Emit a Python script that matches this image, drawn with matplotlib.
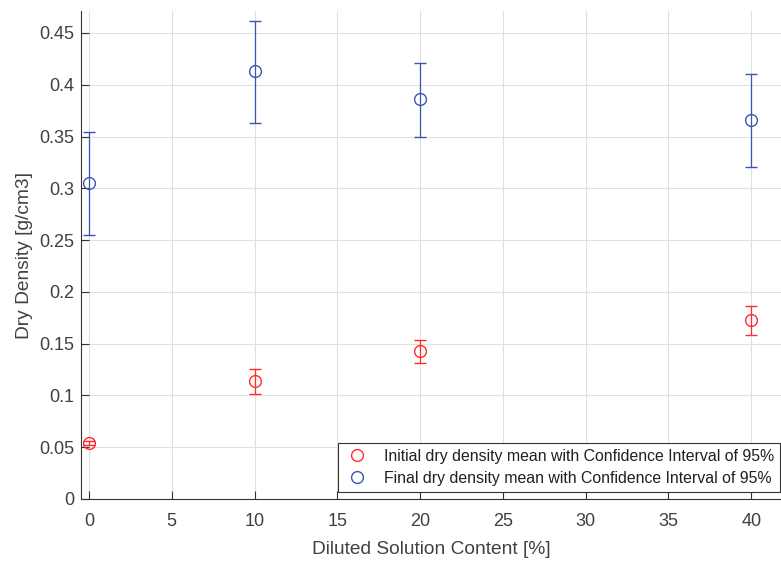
import matplotlib
matplotlib.use('Agg')
import matplotlib.pyplot as plt
from matplotlib.lines import Line2D
import numpy as np

plt.rcParams['font.family'] = ['Liberation Sans', 'DejaVu Sans']

content = [0, 10, 20, 40]
initial_mean = [0.054, 0.114, 0.143, 0.1725]
initial_low = [0.052, 0.101, 0.131, 0.158]
initial_high = [0.056, 0.126, 0.154, 0.186]
final_mean = [0.305, 0.413, 0.386, 0.366]
final_low = [0.255, 0.363, 0.350, 0.321]
final_high = [0.354, 0.462, 0.421, 0.410]

red = '#ff2a2a'
blue = '#3a55b0'
labels = ['Initial dry density mean with Confidence Interval of 95%',
          'Final dry density mean with Confidence Interval of 95%']

fig = plt.figure(figsize=(7.81, 5.62), dpi=100)
ax = fig.add_axes([0.1037, 0.1121, 0.8963, 0.868])

def draw(mean, low, high, color):
    mean = np.array(mean)
    err = [mean - np.array(low), np.array(high) - mean]
    ax.errorbar(content, mean, yerr=err, fmt='o', mfc='none', mec=color,
                ecolor=color, ms=8.5, mew=1.0, elinewidth=0.9, capsize=4,
                capthick=0.9)

draw(initial_mean, initial_low, initial_high, red)
draw(final_mean, final_low, final_high, blue)

ax.set_xlim(-0.48, 41.8)
ax.set_ylim(0, 0.471)
ax.set_xticks(range(0, 41, 5))
ax.set_yticks(np.arange(0, 0.451, 0.05))
ax.set_yticklabels(['0', '0.05', '0.1', '0.15', '0.2', '0.25', '0.3', '0.35', '0.4', '0.45'])
ax.grid(True, color='#e0e0e0', linewidth=0.8)
ax.set_axisbelow(True)
for s in ['top', 'right']:
    ax.spines[s].set_visible(False)
for s in ['left', 'bottom']:
    ax.spines[s].set_color('#333333')
ax.tick_params(direction='in', length=5.5, colors='#333333', labelsize=13,
               labelcolor='#404040')
ax.tick_params(axis='x', pad=10)
ax.tick_params(axis='y', pad=5)
ax.set_xlabel('Diluted Solution Content [%]', fontsize=13.8, color='#404040', labelpad=8)
ax.set_ylabel('Dry Density [g/cm3]', fontsize=13.8, color='#404040', labelpad=4)

handles = [Line2D([], [], ls='none', marker='o', mfc='none', mec=c, ms=8.5, mew=1.0)
           for c in (red, blue)]
leg = ax.legend(handles, labels, loc='lower right', bbox_to_anchor=(0.999, 0.0144),
                borderaxespad=0, fontsize=11.4, frameon=True, fancybox=False,
                edgecolor='#333333', handlelength=1.6, handletextpad=0.9,
                borderpad=0.4, labelspacing=0.42, framealpha=1)
leg.get_frame().set_linewidth(0.8)
for t in leg.get_texts():
    t.set_color('#202020')

fig.savefig('out.png', dpi=100)
